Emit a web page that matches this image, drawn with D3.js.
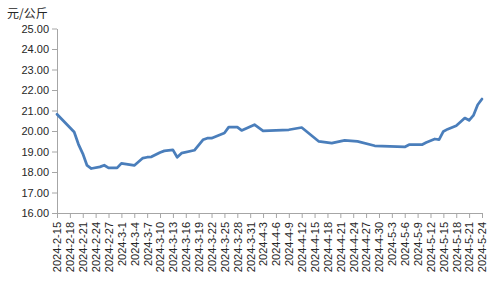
<!DOCTYPE html>
<html>
<head>
<meta charset="utf-8">
<script src="https://cdn.jsdelivr.net/npm/d3@7/dist/d3.min.js"></script>
<style>
  body { margin: 0; background: #fff; }
  svg { display: block; }
</style>
</head>
<body>
<svg id="chart" width="500" height="300"></svg>
<script>
// ---- data ----
const dates = [
  "2024-2-15","2024-2-19","2024-2-20","2024-2-21","2024-2-22","2024-2-23","2024-2-25","2024-2-26",
  "2024-2-27","2024-2-29","2024-3-1","2024-3-4","2024-3-6","2024-3-7","2024-3-8","2024-3-10",
  "2024-3-11","2024-3-13","2024-3-14","2024-3-15","2024-3-18","2024-3-20","2024-3-21","2024-3-22",
  "2024-3-25","2024-3-26","2024-3-28","2024-3-29","2024-4-1","2024-4-3","2024-4-9","2024-4-12",
  "2024-4-16","2024-4-19","2024-4-22","2024-4-25","2024-4-29","2024-5-6","2024-5-7","2024-5-10",
  "2024-5-11","2024-5-13","2024-5-14","2024-5-15","2024-5-16","2024-5-18","2024-5-20","2024-5-21",
  "2024-5-22","2024-5-23","2024-5-24"
];
const prices = [
  20.82,19.95,19.35,18.90,18.32,18.17,18.25,18.33,
  18.20,18.20,18.42,18.32,18.68,18.72,18.74,18.95,
  19.03,19.08,18.72,18.92,19.06,19.57,19.65,19.65,
  19.90,20.19,20.19,20.03,20.31,20.01,20.06,20.17,
  19.49,19.41,19.54,19.49,19.28,19.22,19.33,19.33,
  19.44,19.61,19.58,19.98,20.09,20.26,20.63,20.52,
  20.76,21.28,21.56
];
const yTicks = [16,17,18,19,20,21,22,23,24,25];
const xTickLabels = [
  "2024-2-15","2024-2-18","2024-2-21","2024-2-24","2024-2-27","2024-3-1","2024-3-4","2024-3-7",
  "2024-3-10","2024-3-13","2024-3-16","2024-3-19","2024-3-22","2024-3-25","2024-3-28","2024-3-31",
  "2024-4-3","2024-4-6","2024-4-9","2024-4-12","2024-4-15","2024-4-18","2024-4-21","2024-4-24",
  "2024-4-27","2024-4-30","2024-5-3","2024-5-6","2024-5-9","2024-5-12","2024-5-15","2024-5-18",
  "2024-5-21","2024-5-24"
];
const unitLabel = "元/公斤";

// ---- drawing ----
(function () {
const parse = d3.utcParse("%Y-%m-%d");
const fmt = d => `${d.getUTCFullYear()}-${d.getUTCMonth()+1}-${d.getUTCDate()}`;
const data = dates.map((d, i) => ({ date: parse(d), value: prices[i] }));
const tickDates = xTickLabels.map(parse);

const svg = d3.select("#chart");
const mLeft = 57, mRight = 482, mTop = 28.5, mBottom = 213;

const x = d3.scaleUtc()
  .domain([tickDates[0], tickDates[tickDates.length - 1]])
  .range([mLeft, mRight]);
const y = d3.scaleLinear()
  .domain([16, 25])
  .range([mBottom, mTop]);

const axisColor = "#a6a6a6";
const textColor = "#262626";
const numFont = "'Liberation Sans', Arial, sans-serif";

// y axis
const gy = svg.append("g")
  .attr("transform", `translate(${mLeft},0)`)
  .call(d3.axisLeft(y).tickValues(yTicks).tickFormat(d3.format(".2f")).tickSize(5).tickSizeOuter(0).tickPadding(3));
gy.select(".domain").attr("stroke", axisColor);
gy.selectAll(".tick line").attr("stroke", axisColor);
gy.selectAll(".tick text")
  .attr("fill", textColor)
  .style("font-family", numFont)
  .style("font-size", "11px");

// x axis
const gx = svg.append("g")
  .attr("transform", `translate(0,${mBottom})`)
  .call(d3.axisBottom(x).tickValues(tickDates).tickFormat(fmt).tickSize(5).tickSizeOuter(0));
gx.select(".domain").attr("stroke", axisColor);
gx.selectAll(".tick line").attr("stroke", axisColor);
gx.selectAll(".tick text")
  .attr("fill", textColor)
  .style("font-family", numFont)
  .style("font-size", "11px")
  .attr("transform", "rotate(-90)")
  .attr("x", -9)
  .attr("y", 0)
  .attr("dy", "0.35em")
  .style("text-anchor", "end");

// unit label
svg.append("text")
  .attr("x", 7)
  .attr("y", 18)
  .attr("fill", textColor)
  .style("font-family", "'Noto Sans CJK SC', sans-serif")
  .style("font-size", "12px")
  .text(unitLabel);

// line
const line = d3.line()
  .x(d => x(d.date))
  .y(d => y(d.value));
svg.append("path")
  .datum(data)
  .attr("fill", "none")
  .attr("stroke", "#4a7ebb")
  .attr("stroke-width", 2.75)
  .attr("stroke-linejoin", "round")
  .attr("stroke-linecap", "round")
  .attr("d", line);
})();
</script>
</body>
</html>
